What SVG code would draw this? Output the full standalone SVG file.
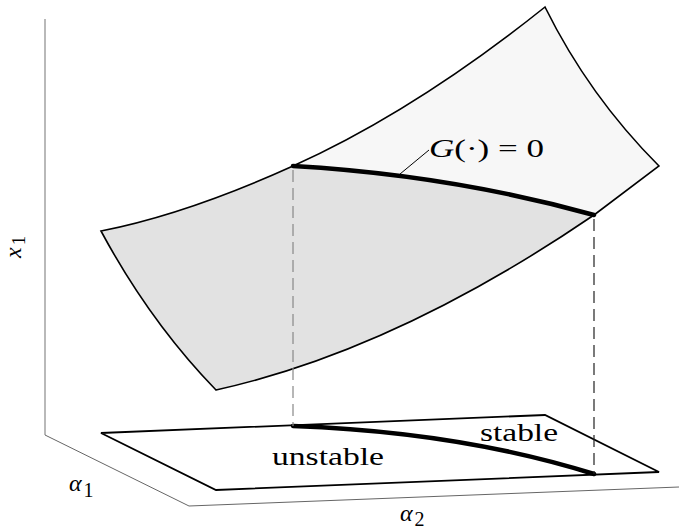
<svg xmlns="http://www.w3.org/2000/svg" width="679" height="532" viewBox="0 0 679 532">
<style>
.axis{fill:none;stroke:#8a8a8a;stroke-width:1.2}
.edge{fill:none;stroke:#000;stroke-width:1.6;stroke-linejoin:miter}
.thick{fill:none;stroke:#000;stroke-width:4.5;stroke-linecap:round}
.dash{fill:none;stroke-width:1.2;stroke-dasharray:12 6}
text{font-family:"Liberation Serif","Times New Roman",serif;font-weight:normal;fill:#000}
.lbl{font-size:25px}
.it{font-style:italic}
</style>
<rect width="679" height="532" fill="#fff"/>
<g id="axes">
<path class="axis" d="M45,19 L45,435" stroke="#9a9a9a"/>
<path class="axis" d="M45,435 L189,506 L679,487" style="stroke:#666;stroke-width:1"/>
</g>
<g id="plane">
<path d="M101,433 L545,415 L659,472 L216,490 Z" fill="#fff" stroke="#000" stroke-width="1.8"/>
<path class="thick" d="M293,426 Q460,432 594,474" stroke-width="4"/>
</g>
<g id="surface">
<path d="M293,166 Q415,111 545,7 Q589,96 659,166 L594,215 Q450,175 293,166 Z" fill="#f7f7f7"/>
<path d="M101,231 Q187,214 293,166 Q450,175 594,215 Q396,350 216,390 Q150,322 101,231 Z" fill="#e2e2e2"/>
<path class="edge" d="M101,231 Q187,214 293,166 Q415,111 545,7 Q589,96 659,166 L594,215 Q396,350 216,390 Q150,322 101,231 Z"/>
<path id="G-curve" class="thick" d="M293,166 Q450,175 594,215"/>
</g>
<g id="connectors">
<path class="dash" d="M293,170 L293,426" stroke="#888"/>
<path class="dash" d="M594,219 L594,474" stroke="#222"/>
<path d="M400,174 L429,150" fill="none" stroke="#000" stroke-width="1"/>
</g>
<g id="labels">
<text class="lbl" x="429" y="157" textLength="115" lengthAdjust="spacingAndGlyphs"><tspan class="it">G</tspan>(·) = 0</text>
<text class="lbl" x="272" y="465" textLength="112" lengthAdjust="spacingAndGlyphs">unstable</text>
<text class="lbl" x="480" y="441" textLength="78" lengthAdjust="spacingAndGlyphs">stable</text>
<text transform="translate(21,258) rotate(-90)"><tspan class="it" font-size="24">x</tspan><tspan font-size="19" dy="4" dx="2">1</tspan></text>
<text x="69" y="491"><tspan class="it" font-size="24">α</tspan><tspan font-size="20" dy="6" dx="2">1</tspan></text>
<text x="400" y="521"><tspan class="it" font-size="24">α</tspan><tspan font-size="20" dy="5" dx="2">2</tspan></text>
</g>
</svg>
